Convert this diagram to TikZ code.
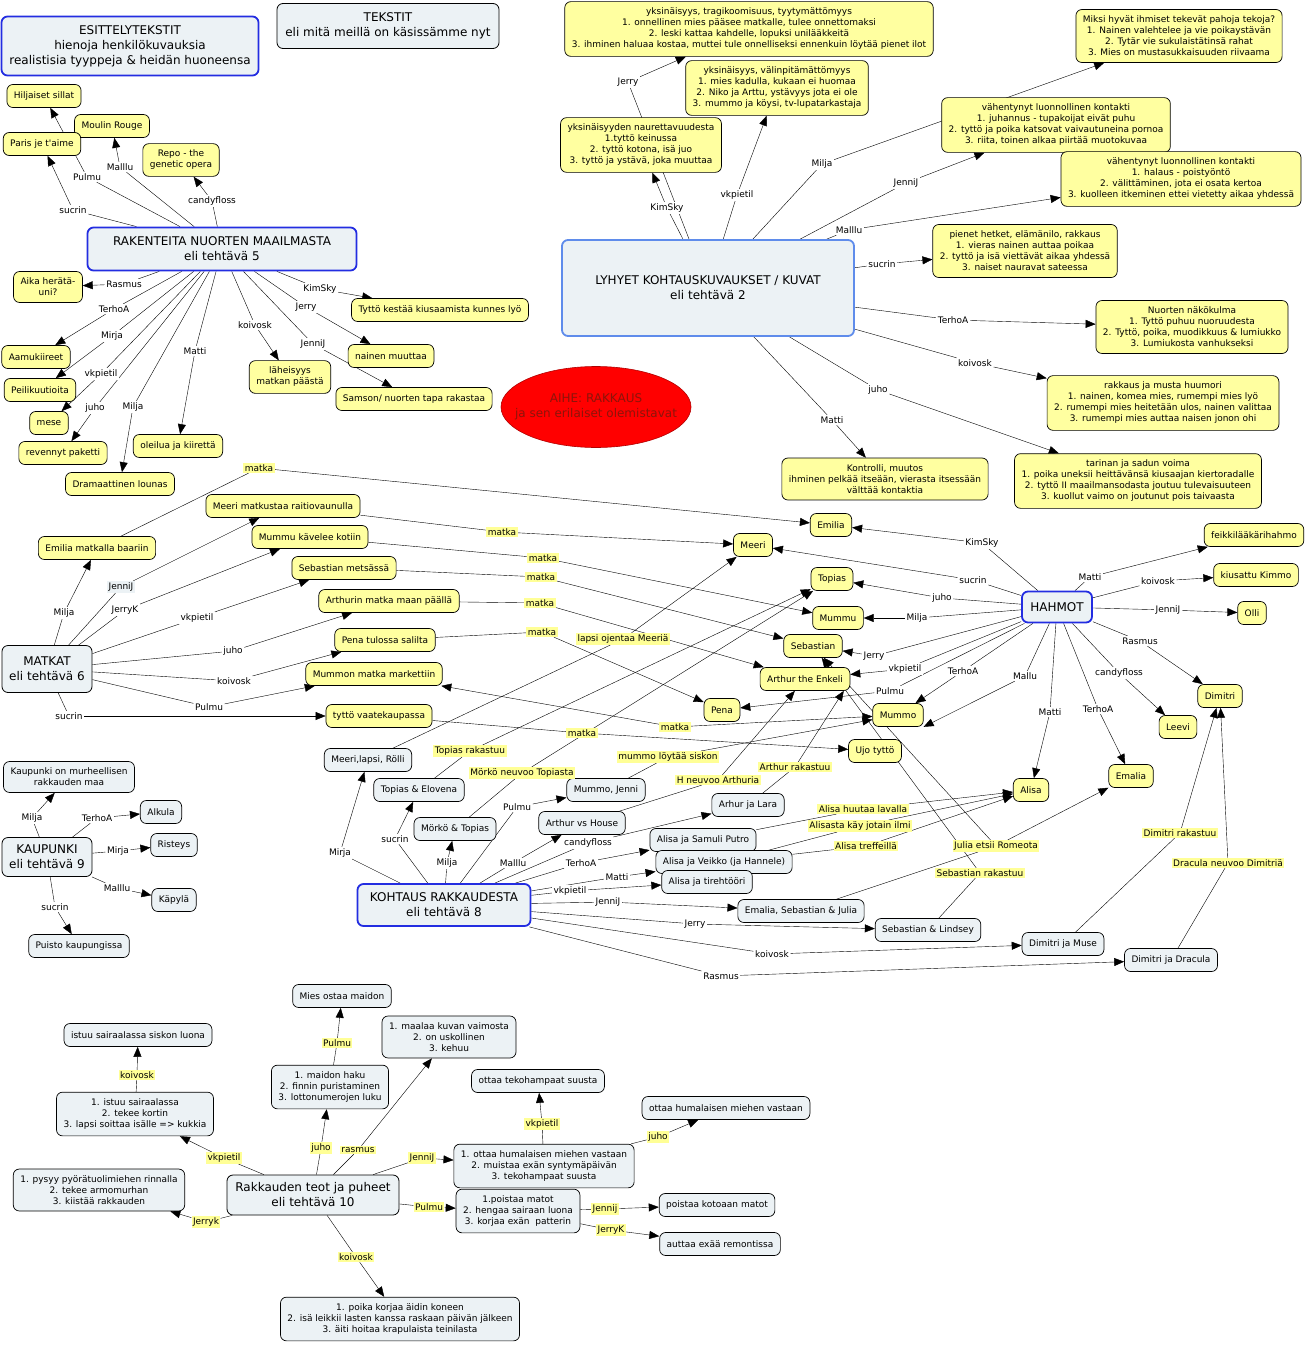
\documentclass[tikz,border=0pt]{standalone}
\usepackage{fontspec}
\setmainfont{DejaVu Sans}
\usetikzlibrary{shapes.geometric,arrows.meta,backgrounds}

\definecolor{ideayellow}{RGB}{255,255,160}
\definecolor{paleblue}{RGB}{236,242,245}
\definecolor{hubblue}{RGB}{35,45,225}
\definecolor{lyhblue}{RGB}{95,140,235}
\definecolor{markyellow}{RGB}{255,255,150}
\definecolor{aihered}{RGB}{140,20,10}

\begin{document}
\begin{tikzpicture}[x=1pt,y=-1pt,
  box/.style={draw,line width=0.8pt,rounded corners=6pt,fill=paleblue,
              font=\fontsize{12}{15}\selectfont,align=center},
  hub/.style={box,draw=hubblue,line width=1.8pt},
  idea/.style={draw,line width=0.7pt,rounded corners=6pt,fill=ideayellow,
               font=\fontsize{9}{11}\selectfont,align=center,
               inner xsep=7pt,inner ysep=6.5pt,minimum height=23pt},
  scene/.style={idea,fill=paleblue},
  lnk/.style={font=\fontsize{9}{11}\selectfont,inner sep=1.5pt,fill=white},
  marked/.style={lnk,fill=markyellow},
  arr/.style={-{Triangle[length=10pt,width=8pt]}},
]
\useasboundingbox (0,0) rectangle (1307,1346);

% Header texts
\node[hub,minimum width=257pt,minimum height=59pt] (esittely) at (130,46)
  {ESITTELYTEKSTIT\\hienoja henkilökuvauksia\\realistisia tyyppeja \& heidän huoneensa};
\node[box,minimum width=222pt,minimum height=45pt] (tekstit) at (388,26)
  {TEKSTIT\\eli mitä meillä on käsissämme nyt};

% Theme
\node[ellipse,draw=red!70!black,line width=0.6pt,fill=red,minimum width=190pt,
      minimum height=81pt,inner sep=0pt] (aihe) at (596,407) {};
\node[text=aihered,font=\fontsize{12}{15}\selectfont,align=center] (aihetxt) at (aihe)
  {AIHE: RAKKAUS\\ja sen erilaiset olemistavat};

% Tehtava 5
\node[hub,minimum width=269pt,minimum height=43pt] (rak) at (222,249)
  {RAKENTEITA NUORTEN MAAILMASTA\\eli tehtävä 5};
\node[idea] (hil) at (44,96) {Hiljaiset sillat};
\node[idea] (mou) at (112,126) {Moulin Rouge};
\node[idea] (par) at (42,144) {Paris je t{\textquotesingle}aime};
\node[idea] (rep) at (181,160) {Repo - the\\genetic opera};
\node[idea] (aik) at (48,287) {Aika herätä-\\uni?};
\node[idea] (aam) at (36,357) {Aamukiireet};
\node[idea] (pei) at (40,390) {Peilikuutioita};
\node[idea] (mes) at (49,423) {mese};
\node[idea] (rev) at (63,453) {revennyt paketti};
\node[idea] (ole) at (178,446) {oleilua ja kiirettä};
\node[idea] (dra) at (120,484) {Dramaattinen lounas};
\node[idea] (lah) at (290,377) {läheisyys\\matkan päästä};
\node[idea] (tyk) at (440,310) {Tyttö kestää kiusaamista kunnes lyö};
\node[idea] (nai) at (391,356) {nainen muuttaa};
\node[idea] (sam) at (414,399) {Samson/ nuorten tapa rakastaa};

\node[lnk] (r1) at (87,177) {Pulmu};
\node[lnk] (r2) at (120,167) {Malllu};
\node[lnk] (r3) at (73,210) {sucrin};
\node[lnk] (r4) at (212,201) {candyfloss};
\node[lnk] (r5) at (124,284) {Rasmus};
\node[lnk] (r6) at (114,309) {TerhoA};
\node[lnk] (r7) at (112,336) {Mirja};
\node[lnk] (r8) at (101,374) {vkpietil};
\node[lnk] (r9) at (95,408) {juho};
\node[lnk] (r10) at (133,407) {Milja};
\node[lnk] (r11) at (195,351) {Matti};
\node[lnk] (r12) at (255,325) {koivosk};
\node[lnk] (r13) at (320,289) {KimSky};
\node[lnk] (r14) at (306,307) {Jerry};
\node[lnk] (r15) at (313,344) {JenniJ};

% Tehtava 2
\node[hub,draw=lyhblue,minimum width=292pt,minimum height=96pt] (lyh) at (708,288)
  {LYHYET KOHTAUSKUVAUKSET / KUVAT\\eli tehtävä 2};
\node[idea] (lyA) at (749,29) {yksinäisyys, tragikoomisuus, tyytymättömyys\\1. onnellinen mies pääsee matkalle, tulee onnettomaksi\\2. leski kattaa kahdelle, lopuksi unilääkkeitä\\3. ihminen haluaa kostaa, muttei tule onnelliseksi ennenkuin löytää pienet ilot};
\node[idea] (lyC) at (641,145) {yksinäisyyden naurettavuudesta\\1.tyttö keinussa\\2. tyttö kotona, isä juo\\3. tyttö ja ystävä, joka muuttaa};
\node[idea] (lyB) at (777,88) {yksinäisyys, välinpitämättömyys\\1. mies kadulla, kukaan ei huomaa\\2. Niko ja Arttu, ystävyys jota ei ole\\3. mummo ja köysi, tv-lupatarkastaja};
\node[idea] (lyD) at (1179,36) {Miksi hyvät ihmiset tekevät pahoja tekoja?\\1. Nainen valehtelee ja vie poikaystävän\\2. Tytär vie sukulaistätinsä rahat\\3. Mies on mustasukkaisuuden riivaama};
\node[idea] (lyE) at (1056,125) {vähentynyt luonnollinen kontakti\\1. juhannus - tupakoijat eivät puhu\\2. tyttö ja poika katsovat vaivautuneina pornoa\\3. riita, toinen alkaa piirtää muotokuvaa};
\node[idea] (lyF) at (1181,179) {vähentynyt luonnollinen kontakti\\1. halaus - poistyöntö\\2. välittäminen, jota ei osata kertoa\\3. kuolleen itkeminen ettei vietetty aikaa yhdessä};
\node[idea] (lyG) at (1025,251) {pienet hetket, elämänilo, rakkaus\\1. vieras nainen auttaa poikaa\\2. tyttö ja isä viettävät aikaa yhdessä\\3. naiset nauravat sateessa};
\node[idea] (lyH) at (1192,327) {Nuorten näkökulma\\1. Tyttö puhuu nuoruudesta\\2. Tyttö, poika, muodikkuus \& lumiukko\\3. Lumiukosta vanhukseksi};
\node[idea] (lyI) at (1163,403) {rakkaus ja musta huumori\\1. nainen, komea mies, rumempi mies lyö\\2. rumempi mies heitetään ulos, nainen valittaa\\3. rumempi mies auttaa naisen jonon ohi};
\node[idea] (lyJ) at (1138,481) {tarinan ja sadun voima\\1. poika uneksii heittävänsä kiusaajan kiertoradalle\\2. tyttö II maailmansodasta joutuu tulevaisuuteen\\3. kuollut vaimo on joutunut pois taivaasta};
\node[idea] (lyK) at (885,479) {Kontrolli, muutos\\ihminen pelkää itseään, vierasta itsessään\\välttää kontaktia};

\node[lnk] (l1) at (628,82) {Jerry};
\node[lnk] (l2) at (667,208) {KimSky};
\node[lnk] (l3) at (737,195) {vkpietil};
\node[lnk] (l4) at (822,164) {Milja};
\node[lnk] (l5) at (906,183) {JenniJ};
\node[lnk] (l6) at (849,230) {Malllu};
\node[lnk] (l7) at (882,264) {sucrin};
\node[lnk] (l8) at (953,320) {TerhoA};
\node[lnk] (l9) at (975,363) {koivosk};
\node[lnk] (l10) at (878,390) {juho};
\node[lnk] (l11) at (832,420) {Matti};

% Hahmot
\node[hub,minimum width=70pt,minimum height=31pt] (hah) at (1057,607) {HAHMOT};
\node[idea] (emi) at (831,525) {Emilia};
\node[idea] (mee) at (753,545) {Meeri};
\node[idea] (topi) at (832,579) {Topias};
\node[idea] (muu) at (838,618) {Mummu};
\node[idea] (seb) at (813,646) {Sebastian};
\node[idea] (art) at (805,679) {Arthur the Enkeli};
\node[idea] (pen) at (722,710) {Pena};
\node[idea] (mmo) at (898,715) {Mummo};
\node[idea] (ujo) at (875,751) {Ujo tyttö};
\node[idea] (ali) at (1031,790) {Alisa};
\node[idea] (ema) at (1131,776) {Emalia};
\node[idea] (lee) at (1178,727) {Leevi};
\node[idea] (dim) at (1220,696) {Dimitri};
\node[idea] (fei) at (1254,535) {feikkilääkärihahmo};
\node[idea] (kiu) at (1256,575) {kiusattu Kimmo};
\node[idea] (oll) at (1252,613) {Olli};

\node[lnk] (h1) at (982,543) {KimSky};
\node[lnk] (h2) at (973,580) {sucrin};
\node[lnk] (h3) at (942,598) {juho};
\node[lnk] (h4) at (917,618) {Milja};
\node[lnk] (h5) at (874,656) {Jerry};
\node[lnk] (h6) at (905,669) {vkpietil};
\node[lnk] (h7) at (963,671) {TerhoA};
\node[lnk] (h8) at (890,691) {Pulmu};
\node[lnk] (h9) at (1025,676) {Mallu};
\node[lnk] (h10) at (1050,712) {Matti};
\node[lnk] (h11) at (1098,709) {TerhoA};
\node[lnk] (h12) at (1119,673) {candyfloss};
\node[lnk] (h13) at (1140,641) {Rasmus};
\node[lnk] (h14) at (1168,610) {JenniJ};
\node[lnk] (h15) at (1158,581) {koivosk};
\node[lnk] (h16) at (1090,577) {Matti};

% Tehtava 6
\node[box,minimum width=90pt,minimum height=47pt] (mat) at (47,669) {MATKAT\\eli tehtävä 6};
\node[idea] (m1) at (97,548) {Emilia matkalla baariin};
\node[idea] (m2) at (283,506) {Meeri matkustaa raitiovaunulla};
\node[idea] (m3) at (310,537) {Mummu kävelee kotiin};
\node[idea] (m4) at (344,568) {Sebastian metsässä};
\node[idea] (m5) at (389,601) {Arthurin matka maan päällä};
\node[idea] (m6) at (385,640) {Pena tulossa salilta};
\node[idea] (m7) at (374,674) {Mummon matka markettiin};
\node[idea] (m8) at (379,716) {tyttö vaatekaupassa};

\node[lnk] (ma1) at (64,613) {Milja};
\node[lnk,fill=paleblue] (ma2) at (121,587) {JenniJ};
\node[lnk] (ma3) at (125,610) {JerryK};
\node[lnk] (ma4) at (197,618) {vkpietil};
\node[lnk] (ma5) at (233,651) {juho};
\node[lnk] (ma6) at (234,681) {koivosk};
\node[lnk] (ma7) at (209,707) {Pulmu};
\node[lnk] (ma8) at (69,716) {sucrin};

\node[marked] (k1) at (259,468) {matka};
\node[marked] (k2) at (502,532) {matka};
\node[marked] (k3) at (543,558) {matka};
\node[marked] (k4) at (541,577) {matka};
\node[marked] (k5) at (540,603) {matka};
\node[marked] (k6) at (542,632) {matka};
\node[marked] (k7) at (675,727) {matka};
\node[marked] (k8) at (582,733) {matka};

% Tehtava 8
\node[hub,minimum width=173pt,minimum height=42pt] (koh) at (444,905)
  {KOHTAUS RAKKAUDESTA\\eli tehtävä 8};
\node[scene] (s1) at (368,760) {Meeri,lapsi, Rölli};
\node[scene] (s2) at (419,790) {Topias \& Elovena};
\node[scene] (s3) at (455,829) {Mörkö \& Topias};
\node[scene] (s4) at (606,790) {Mummo, Jenni};
\node[scene] (s5) at (582,823) {Arthur vs House};
\node[scene] (s6) at (748,805) {Arhur ja Lara};
\node[scene] (s7) at (703,840) {Alisa ja Samuli Putro};
\node[scene] (s8) at (724,862) {Alisa ja Veikko (ja Hannele)};
\node[scene] (s9) at (707,882) {Alisa ja tirehtööri};
\node[scene] (s10) at (801,911) {Emalia, Sebastian \& Julia};
\node[scene] (s11) at (928,930) {Sebastian \& Lindsey};
\node[scene] (s12) at (1063,944) {Dimitri ja Muse};
\node[scene] (s13) at (1171,960) {Dimitri ja Dracula};

\node[lnk] (o1) at (340,853) {Mirja};
\node[lnk] (o2) at (395,839) {sucrin};
\node[lnk] (o3) at (447,863) {Milja};
\node[lnk] (o4) at (517,807) {Pulmu};
\node[lnk] (o5) at (513,863) {Malllu};
\node[lnk] (o6) at (588,843) {candyfloss};
\node[lnk] (o7) at (581,863) {TerhoA};
\node[lnk] (o8) at (617,877) {Matti};
\node[lnk] (o9) at (570,891) {vkpietil};
\node[lnk] (o10) at (608,902) {JenniJ};
\node[lnk] (o11) at (695,924) {Jerry};
\node[lnk] (o12) at (772,954) {koivosk};
\node[lnk] (o13) at (721,976) {Rasmus};

\node[marked] (t1) at (623,639) {lapsi ojentaa Meeriä};
\node[marked] (t2) at (470,751) {Topias rakastuu};
\node[marked] (t3) at (522,773) {Mörkö neuvoo Topiasta};
\node[marked] (t4) at (668,757) {mummo löytää siskon};
\node[marked] (t5) at (718,780) {H neuvoo Arthuria};
\node[marked] (t6) at (795,767) {Arthur rakastuu};
\node[marked] (t7) at (863,809) {Alisa huutaa lavalla};
\node[marked] (t8) at (860,826) {Alisasta käy jotain ilmi};
\node[marked] (t9) at (866,846) {Alisa treffeillä};
\node[marked] (t10) at (996,846) {Julia etsii Romeota};
\node[marked] (t11) at (980,873) {Sebastian rakastuu};
\node[marked] (t12) at (1180,833) {Dimitri rakastuu};
\node[marked] (t13) at (1228,863) {Dracula neuvoo Dimitriä};

% Tehtava 9
\node[box,minimum width=90pt,minimum height=39pt] (kau) at (47,857) {KAUPUNKI\\eli tehtävä 9};
\node[scene] (c1) at (69,777) {Kaupunki on murheellisen\\rakkauden maa};
\node[scene] (c2) at (161,812) {Alkula};
\node[scene] (c3) at (174,845) {Risteys};
\node[scene] (c4) at (174,900) {Käpylä};
\node[scene] (c5) at (79,946) {Puisto kaupungissa};

\node[lnk] (ka1) at (32,818) {Milja};
\node[lnk] (ka2) at (97,818) {TerhoA};
\node[lnk] (ka3) at (118,851) {Mirja};
\node[lnk] (ka4) at (117,888) {Malllu};
\node[lnk] (ka5) at (55,907) {sucrin};

% Tehtava 10
\node[box,minimum width=172pt,minimum height=40pt] (rt) at (313,1195)
  {Rakkauden teot ja puheet\\eli tehtävä 10};
\node[scene] (mie) at (342,996) {Mies ostaa maidon};
\node[scene] (isl) at (138,1035) {istuu sairaalassa siskon luona};
\node[scene] (ist) at (135,1114) {1. istuu sairaalassa\\2. tekee kortin\\3. lapsi soittaa isälle => kukkia};
\node[scene] (mai) at (330,1087) {1. maidon haku\\2. finnin puristaminen\\3. lottonumerojen luku};
\node[scene] (maa) at (449,1037) {1. maalaa kuvan vaimosta\\2. on uskollinen\\3. kehuu};
\node[scene] (tek) at (538,1081) {ottaa tekohampaat suusta};
\node[scene] (hum) at (726,1108) {ottaa humalaisen miehen vastaan};
\node[scene] (ott) at (544,1166) {1. ottaa humalaisen miehen vastaan\\2. muistaa exän syntymäpäivän\\3. tekohampaat suusta};
\node[scene] (poi) at (518,1211) {1.poistaa matot\\2. hengaa sairaan luona\\3. korjaa exän\ \ patterin};
\node[scene] (pko) at (717,1205) {poistaa kotoaan matot};
\node[scene] (aut) at (720,1244) {auttaa exää remontissa};
\node[scene] (pys) at (99,1190) {1. pysyy pyörätuolimiehen rinnalla\\2. tekee armomurhan\\3. kiistää rakkauden};
\node[scene] (pka) at (400,1319) {1. poika korjaa äidin koneen\\2. isä leikkii lasten kanssa raskaan päivän jälkeen\\3. äiti hoitaa krapulaista teinilasta};

\node[marked] (q1) at (137,1075) {koivosk};
\node[marked] (q2) at (224,1158) {vkpietil};
\node[marked] (q3) at (206,1222) {Jerryk};
\node[marked] (q4) at (321,1148) {juho};
\node[marked] (q5) at (337,1043) {Pulmu};
\node[marked] (q6) at (358,1150) {rasmus};
\node[marked] (q7) at (422,1158) {JenniJ};
\node[marked] (q8) at (429,1207) {Pulmu};
\node[marked] (q9) at (356,1257) {koivosk};
\node[marked] (q10) at (542,1124) {vkpietil};
\node[marked] (q11) at (658,1137) {juho};
\node[marked] (q12) at (605,1209) {Jennij};
\node[marked] (q13) at (611,1230) {JerryK};

% Connectors, behind the boxes
\begin{scope}[on background layer,line width=0.7pt]
\draw (rak) -- (r1) edge[arr] (hil);
\draw (rak) -- (r2) edge[arr] (mou);
\draw (rak) -- (r3) edge[arr] (par);
\draw (rak) -- (r4) edge[arr] (rep);
\draw (rak) -- (r5) edge[arr] (aik);
\draw (rak) -- (r6) edge[arr] (aam);
\draw (rak) -- (r7) edge[arr] (pei);
\draw (rak) -- (r8) edge[arr] (mes);
\draw (rak) -- (r9) edge[arr] (rev);
\draw (rak) -- (r10) edge[arr] (dra);
\draw (rak) -- (r11) edge[arr] (ole);
\draw (rak) -- (r12) edge[arr] (lah);
\draw (rak) -- (r13) edge[arr] (tyk);
\draw (rak) -- (r14) edge[arr] (nai);
\draw (rak) -- (r15) edge[arr] (sam);

\draw (lyh) -- (l1) edge[arr] (lyA);
\draw (lyh) -- (l2) edge[arr] (lyC);
\draw (lyh) -- (l3) edge[arr] (lyB);
\draw (lyh) -- (l4) edge[arr] (lyD);
\draw (lyh) -- (l5) edge[arr] (lyE);
\draw (lyh) -- (l6) edge[arr] (lyF);
\draw (lyh) -- (l7) edge[arr] (lyG);
\draw (lyh) -- (l8) edge[arr] (lyH);
\draw (lyh) -- (l9) edge[arr] (lyI);
\draw (lyh) -- (l10) edge[arr] (lyJ);
\draw (lyh) -- (l11) edge[arr] (lyK);

\draw (hah) -- (h1) edge[arr] (emi);
\draw (hah) -- (h2) edge[arr] (mee);
\draw (hah) -- (h3) edge[arr] (topi);
\draw (hah) -- (h4) edge[arr] (muu);
\draw (hah) -- (h5) edge[arr] (seb);
\draw (hah) -- (h6) edge[arr] (art);
\draw (hah) -- (h7) edge[arr] (mmo);
\draw (hah) -- (h8) edge[arr] (pen);
\draw (hah) -- (h9) edge[arr] (mmo.south east);
\draw (hah) -- (h10) edge[arr] (ali);
\draw (hah) -- (h11) edge[arr] (ema);
\draw (hah) -- (h12) edge[arr] (lee);
\draw (hah) -- (h13) edge[arr] (dim);
\draw (hah) -- (h14) edge[arr] (oll);
\draw (hah) -- (h15) edge[arr] (kiu);
\draw (hah) -- (h16) edge[arr] (fei);

\draw (mat) -- (ma1) edge[arr] (m1);
\draw (mat) -- (ma2) edge[arr] (m2);
\draw (mat) -- (ma3) edge[arr] (m3);
\draw (mat) -- (ma4) edge[arr] (m4);
\draw (mat) -- (ma5) edge[arr] (m5);
\draw (mat) -- (ma6) edge[arr] (m6);
\draw (mat) -- (ma7) edge[arr] (m7);
\draw (mat) -- (ma8) edge[arr] (m8);

\draw (m1) -- (k1) edge[arr] (emi);
\draw (m2) -- (k2) edge[arr] (mee);
\draw (m3) -- (k3) edge[arr] (muu);
\draw (m4) -- (k4) edge[arr] (seb);
\draw (m5) -- (k5) edge[arr] (art);
\draw (m6) -- (k6) edge[arr] (pen);
\draw[arr] (k7) -- (m7);
\draw[arr] (k7) -- (mmo);
\draw (m8) -- (k8) edge[arr] (ujo);

\draw (koh) -- (o1) edge[arr] (s1);
\draw (koh) -- (o2) edge[arr] (s2);
\draw (koh) -- (o3) edge[arr] (s3);
\draw (koh) -- (o4) edge[arr] (s4);
\draw (koh) -- (o5) edge[arr] (s5);
\draw (koh) -- (o6) edge[arr] (s6);
\draw (koh) -- (o7) edge[arr] (s7);
\draw (koh) -- (o8) edge[arr] (s8);
\draw (koh) -- (o9) edge[arr] (s9);
\draw (koh) -- (o10) edge[arr] (s10);
\draw (koh) -- (o11) edge[arr] (s11);
\draw (koh) -- (o12) edge[arr] (s12);
\draw (koh) -- (o13) edge[arr] (s13);

\draw (s1) -- (t1) edge[arr] (mee);
\draw (s2) -- (t2) edge[arr] (topi);
\draw (s3) -- (t3) edge[arr] (topi);
\draw (s4) -- (t4) edge[arr] (mmo);
\draw (s5) -- (t5) edge[arr] (art);
\draw (s6) -- (t6) edge[arr] (art.-17);
\draw (s7) -- (t7) edge[arr] (ali);
\draw (s8) -- (t8) edge[arr] (ali);
\draw (s8) -- (t9) edge[arr] (ali);
\draw (s10) -- (t10) edge[arr] (ema);
\draw[arr] (t10) -- (seb);
\draw (s11) -- (t11) edge[arr] (seb);
\draw (s12) -- (t12) edge[arr] (dim);
\draw (s13) -- (t13) edge[arr] (dim);

\draw (kau) -- (ka1) edge[arr] (c1);
\draw (kau) -- (ka2) edge[arr] (c2);
\draw (kau) -- (ka3) edge[arr] (c3);
\draw (kau) -- (ka4) edge[arr] (c4);
\draw (kau) -- (ka5) edge[arr] (c5);

\draw (ist) -- (q1) edge[arr] (isl);
\draw (rt) -- (q2) edge[arr] (ist);
\draw (rt) -- (q3) edge[arr] (pys);
\draw (rt) -- (q4) edge[arr] (mai);
\draw (mai) -- (q5) edge[arr] (mie);
\draw (rt) -- (q6) edge[arr] (maa);
\draw (rt) -- (q7) edge[arr] (ott);
\draw (rt) -- (q8) edge[arr] (poi);
\draw (rt) -- (q9) edge[arr] (pka);
\draw (ott) -- (q10) edge[arr] (tek);
\draw (ott) -- (q11) edge[arr] (hum);
\draw (poi) -- (q12) edge[arr] (pko);
\draw (poi) -- (q13) edge[arr] (aut);
\end{scope}

\end{tikzpicture}
\end{document}
